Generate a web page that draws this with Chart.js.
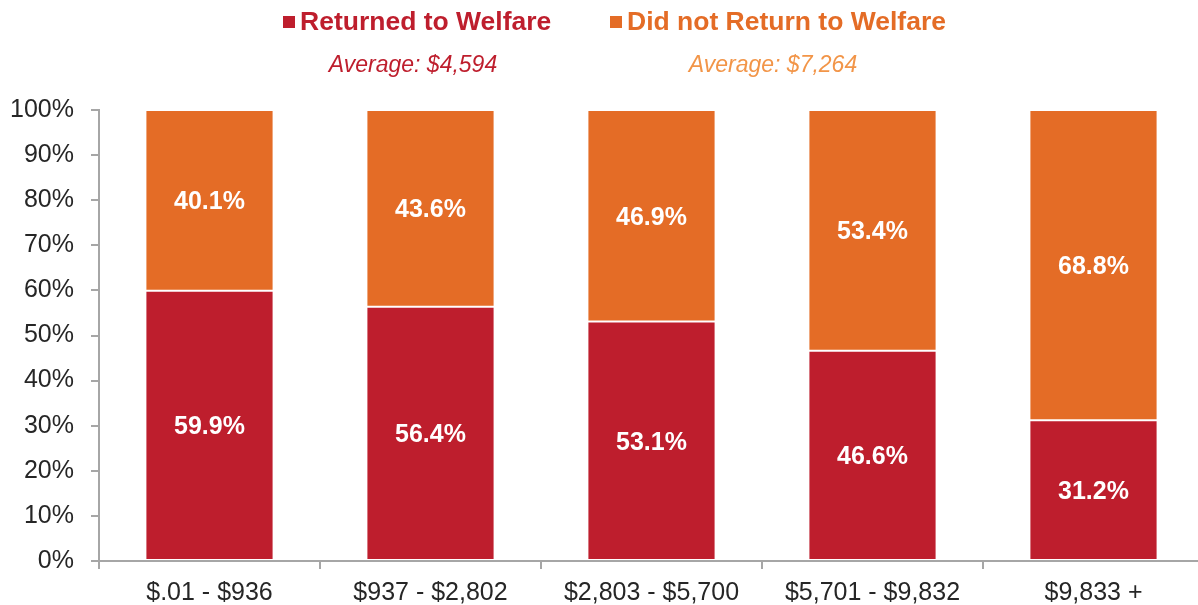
<!DOCTYPE html>
<html>
<head>
<meta charset="utf-8">
<script src="https://cdn.jsdelivr.net/npm/chart.js@4/dist/chart.umd.min.js"></script>
<style>
html,body{margin:0;padding:0;background:#fff;overflow:hidden;}
#wrap{width:1198px;height:605px;overflow:hidden;position:relative;}
canvas{display:block;}
</style>
</head>
<body>
<div id="wrap"><canvas id="c" width="1204" height="605"></canvas></div>
<script>
const categories = ['$.01 - $936', '$937 - $2,802', '$2,803 - $5,700', '$5,701 - $9,832', '$9,833 +'];
const returnedValues = [59.9, 56.4, 53.1, 46.6, 31.2];
const notReturnedValues = [40.1, 43.6, 46.9, 53.4, 68.8];
const seriesNames = ['Returned to Welfare', 'Did not Return to Welfare'];
const averageLabels = ['Average: $4,594', 'Average: $7,264'];
const yTicks = [0, 10, 20, 30, 40, 50, 60, 70, 80, 90, 100];

const RED = '#BE1E2D';
const ORANGE = '#E46C26';
const AVG_COLORS = ['#BE1E2D', '#F29548'];
const FONT = '"Liberation Sans", Arial, sans-serif';

const headerPlugin = {
  id: 'header',
  afterDraw(chart) {
    const ctx = chart.ctx;
    ctx.save();
    // legend
    ctx.font = 'bold 26.5px ' + FONT;
    ctx.textBaseline = 'middle';
    const boxes = [283, 610];
    const colors = [RED, ORANGE];
    const avgCenters = [413, 773];
    chart.data.datasets.forEach((ds, i) => {
      const x = boxes[i];
      ctx.fillStyle = colors[i];
      ctx.fillRect(x, 16, 12, 12);
      ctx.textAlign = 'left';
      ctx.fillText(ds.label, x + 17, 23);
    });
    ctx.font = 'italic 23px ' + FONT;
    ctx.textAlign = 'center';
    averageLabels.forEach((t, i) => {
      ctx.fillStyle = AVG_COLORS[i];
      ctx.fillText(t, avgCenters[i], 66);
    });
    // data labels
    ctx.font = 'bold 25px ' + FONT;
    ctx.fillStyle = '#FFFFFF';
    chart.data.datasets.forEach((ds, di) => {
      const meta = chart.getDatasetMeta(di);
      meta.data.forEach((bar, i) => {
        const yc = (bar.y + bar.base) / 2;
        ctx.fillText(ds.data[i].toFixed(1) + '%', bar.x, yc + 2);
      });
    });
    ctx.restore();
  }
};

new Chart(document.getElementById('c'), {
  type: 'bar',
  data: {
    labels: categories,
    datasets: [
      { label: seriesNames[0], data: returnedValues, backgroundColor: RED, borderColor: 'rgba(255,255,255,0.15)', borderWidth: 1, borderSkipped: false },
      { label: seriesNames[1], data: notReturnedValues, backgroundColor: ORANGE, borderColor: 'rgba(255,255,255,0.15)', borderWidth: 1, borderSkipped: false }
    ]
  },
  options: {
    responsive: false,
    animation: false,
    devicePixelRatio: 1,
    layout: { padding: { top: 110, left: 0, right: 0, bottom: 0 } },
    plugins: { legend: { display: false }, tooltip: { enabled: false } },
    datasets: { bar: { categoryPercentage: 1, barPercentage: 0.58 } },
    scales: {
      x: {
        stacked: true,
        offset: true,
        grid: { display: true, offset: true, drawOnChartArea: false, drawTicks: true, tickLength: 8, color: '#A6A6A6', lineWidth: 2 },
        border: { display: true, color: '#A6A6A6', width: 2 },
        ticks: { color: '#262626', font: { family: FONT, size: 25 }, padding: 9, maxRotation: 0, autoSkip: false },
        afterFit(scale) { scale.height = 44; }
      },
      y: {
        stacked: true,
        min: 0, max: 100,
        afterBuildTicks(scale) { scale.ticks = yTicks.map(v => ({ value: v })); },
        grid: { display: true, drawOnChartArea: false, drawTicks: true, tickLength: 8, color: '#A6A6A6', lineWidth: 2 },
        border: { display: true, color: '#A6A6A6', width: 2 },
        ticks: { color: '#262626', font: { family: FONT, size: 25 }, padding: 17, callback: v => v + '%' },
        afterFit(scale) { scale.width = 99; }
      }
    }
  },
  plugins: [headerPlugin]
});
</script>
</body>
</html>
